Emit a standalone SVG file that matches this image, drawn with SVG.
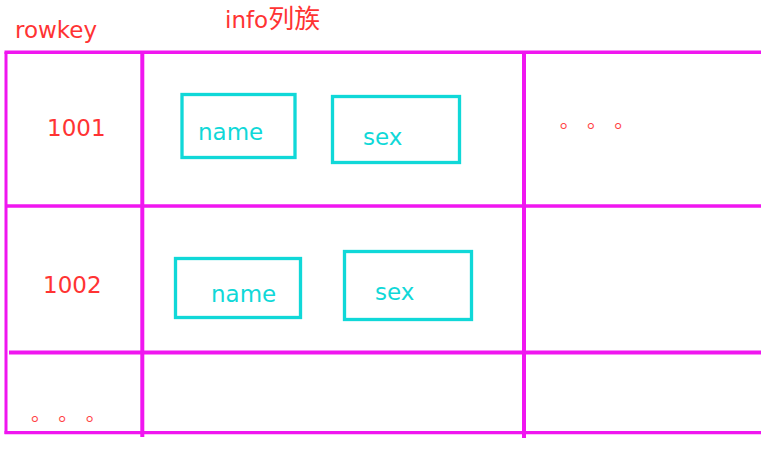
<svg xmlns="http://www.w3.org/2000/svg" width="761" height="471" viewBox="0 0 761 471">
<style>
.grid{stroke:#f016f0;fill:none;stroke-linecap:butt}
.box{stroke:#10d8d8;stroke-width:3.3;fill:none}
.red{fill:#ff3333;font-family:"DejaVu Sans","Noto Sans CJK SC",sans-serif;font-size:23px}
.cy{fill:#10d8d8;font-family:"DejaVu Sans",sans-serif;font-size:23px}
.dots{fill:#ff4444;font-family:"Noto Sans CJK SC",sans-serif;font-size:20px}
</style>
<rect width="761" height="471" fill="#ffffff"/>
<g id="connectors">
<line class="grid" x1="4.5" y1="52.3" x2="761" y2="52.3" stroke-width="3.6"/>
<line class="grid" x1="6" y1="52" x2="6" y2="434" stroke-width="3"/>
<line class="grid" x1="142.3" y1="51" x2="142.3" y2="437" stroke-width="4"/>
<line class="grid" x1="524" y1="51" x2="524" y2="438" stroke-width="4"/>
<line class="grid" x1="6" y1="206" x2="761" y2="206" stroke-width="3.6"/>
<line class="grid" x1="9" y1="352.5" x2="761" y2="352.5" stroke-width="4"/>
<line class="grid" x1="4.5" y1="432.7" x2="761" y2="432.7" stroke-width="3.2"/>
</g>
<g id="header-rowkey"><text class="red" x="15" y="38" font-size="24">rowkey</text></g>
<g id="header-info"><text class="red" x="225" y="28">info<tspan font-size="26">列族</tspan></text></g>
<g id="row-1001"><text class="red" x="47" y="136">1001</text></g>
<g id="row-1002"><text class="red" x="43" y="293">1002</text></g>
<g id="cell-1001-name"><rect class="box" x="182" y="94.5" width="113" height="63"/><text class="cy" x="198" y="140">name</text></g>
<g id="cell-1001-sex"><rect class="box" x="332.5" y="96.5" width="127" height="66"/><text class="cy" x="363" y="145">sex</text></g>
<g id="cell-1002-name"><rect class="box" x="175.5" y="258.5" width="125" height="59"/><text class="cy" x="211" y="302">name</text></g>
<g id="cell-1002-sex"><rect class="box" x="344.5" y="251.5" width="127" height="68"/><text class="cy" x="375" y="300">sex</text></g>
<g id="more-cols"><text class="dots" x="559.7 587 614.3" y="127.7">。。。</text></g>
<g id="more-rows"><text class="dots" x="31 58.3 85.7" y="421.3">。。。</text></g>
</svg>
